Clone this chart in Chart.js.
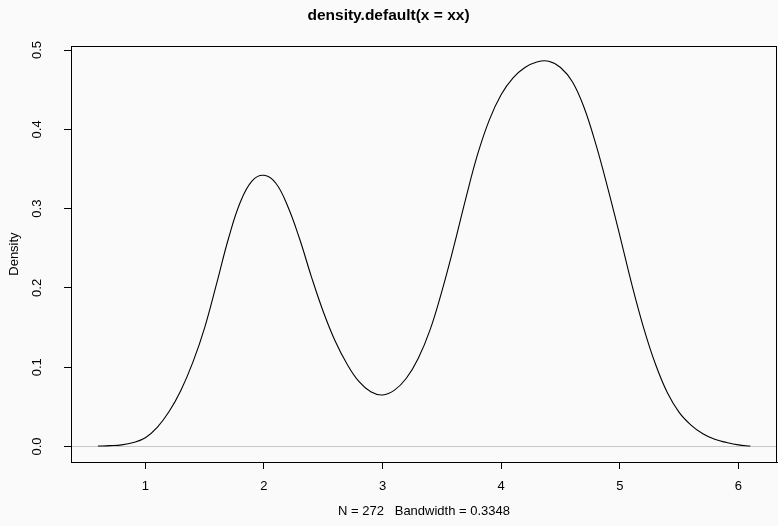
<!DOCTYPE html>
<html>
<head>
<meta charset="utf-8">
<script src="https://cdn.jsdelivr.net/npm/chart.js@4"></script>
<style>
  html, body { margin: 0; padding: 0; background: #fafafa; }
  #wrap { width: 778px; height: 526px; }
</style>
</head>
<body>
<div id="wrap"><canvas id="density_chart" width="778" height="526"></canvas></div>
<script>
// density of xx
const xValues = [0.6, 0.7, 0.8, 0.9, 1.0, 1.1, 1.2, 1.3, 1.4, 1.5, 1.6, 1.7, 1.8, 1.9,
    2.0, 2.1, 2.2, 2.3, 2.4, 2.5, 2.6, 2.7, 2.8, 2.9, 3.0, 3.1, 3.2, 3.3, 3.4, 3.5,
    3.6, 3.7, 3.8, 3.9, 4.0, 4.1, 4.2, 4.3, 4.4, 4.5, 4.6, 4.7, 4.8, 4.9, 5.0, 5.1,
    5.2, 5.3, 5.4, 5.5, 5.6, 5.7, 5.8, 5.9, 6.0, 6.1];
const densityValues = [0.0005, 0.001, 0.002, 0.005, 0.011, 0.024, 0.044, 0.071, 0.106, 0.150,
    0.205, 0.262, 0.308, 0.335, 0.342, 0.332, 0.303, 0.262, 0.214, 0.170, 0.133, 0.104,
    0.082, 0.069, 0.065, 0.071, 0.086, 0.111, 0.147, 0.196, 0.252, 0.312, 0.368, 0.412,
    0.444, 0.465, 0.478, 0.485, 0.486, 0.478, 0.460, 0.427, 0.380, 0.325, 0.266, 0.205,
    0.150, 0.104, 0.068, 0.043, 0.027, 0.016, 0.009, 0.005, 0.002, 0.0005];
const xTicks = [1, 2, 3, 4, 5, 6];
const yTicks = [0.0, 0.1, 0.2, 0.3, 0.4, 0.5];
const xRange = [0.373, 6.325];
const yRange = [-0.0196, 0.505];

const mainTitle = 'density.default(x = xx)';
const xTitle = 'N = 272   Bandwidth = 0.3348';
const yTitle = 'Density';

const fontFamily = '"Liberation Sans", Arial, Helvetica, sans-serif';

const points = xValues.map((x, i) => ({ x: x, y: densityValues[i] }));

// background, grey zero line, box round the plot
const rPlotStyle = {
    id: 'rPlotStyle',
    beforeDraw(chart) {
        const c = chart.ctx;
        c.save();
        c.fillStyle = '#fafafa';
        c.fillRect(0, 0, chart.width, chart.height);
        c.restore();
    },
    beforeDatasetsDraw(chart) {
        const c = chart.ctx;
        const area = chart.chartArea;
        const y0 = Math.round(chart.scales.y.getPixelForValue(0)) + 0.5;
        c.save();
        c.strokeStyle = '#c8c8c8';
        c.lineWidth = 1;
        c.beginPath();
        c.moveTo(area.left, y0);
        c.lineTo(area.right, y0);
        c.stroke();
        c.restore();
    },
    afterDraw(chart) {
        const c = chart.ctx;
        const area = chart.chartArea;
        c.save();
        c.strokeStyle = '#000';
        c.lineWidth = 1;
        c.strokeRect(Math.round(area.left) + 0.5, Math.round(area.top) + 0.5,
            Math.round(area.right - area.left) - 1, Math.round(area.bottom - area.top));
        c.restore();
    }
};

const ctx = document.getElementById('density_chart').getContext('2d');

const densityChart = new Chart(ctx, {
    type: 'line',
    data: {
        datasets: [{
            data: points,
            borderColor: '#000',
            borderWidth: 1.1,
            pointRadius: 0,
            fill: false,
            tension: 0.4
        }]
    },
    options: {
        responsive: false,
        animation: false,
        layout: { padding: { top: 0, right: 1, bottom: 0, left: 0 } },
        plugins: {
            legend: { display: false },
            tooltip: { enabled: false },
            title: {
                display: true,
                text: mainTitle,
                color: '#000',
                font: { family: fontFamily, size: 15.5, weight: 'bold' },
                padding: { top: 6, bottom: 21.5 }
            }
        },
        scales: {
            x: {
                type: 'linear',
                min: xRange[0],
                max: xRange[1],
                afterBuildTicks: (scale) => { scale.ticks = xTicks.map(v => ({ value: v })); },
                afterFit: (scale) => { scale.height = 64; },
                grid: { display: true, drawOnChartArea: false, drawTicks: true, tickLength: 7, color: '#000' },
                border: { display: true, color: '#000' },
                ticks: {
                    color: '#000',
                    padding: 10,
                    maxRotation: 0,
                    font: { family: fontFamily, size: 13 },
                    callback: (v) => String(v)
                },
                title: {
                    display: true,
                    text: xTitle,
                    color: '#000',
                    font: { family: fontFamily, size: 13 },
                    padding: { top: 0, bottom: 7 }
                }
            },
            y: {
                type: 'linear',
                min: yRange[0],
                max: yRange[1],
                afterBuildTicks: (scale) => { scale.ticks = yTicks.map(v => ({ value: v })); },
                afterFit: (scale) => { scale.width = 71; },
                grid: { display: true, drawOnChartArea: false, drawTicks: true, tickLength: 7, color: '#000' },
                border: { display: true, color: '#000' },
                ticks: {
                    color: '#000',
                    padding: 18,
                    minRotation: 90,
                    maxRotation: 90,
                    crossAlign: 'center',
                    font: { family: fontFamily, size: 13 },
                    callback: (v) => Number(v).toFixed(1)
                },
                title: {
                    display: true,
                    text: yTitle,
                    color: '#000',
                    font: { family: fontFamily, size: 13 },
                    padding: { top: 7, bottom: 0 }
                }
            }
        }
    },
    plugins: [rPlotStyle]
});
</script>
</body>
</html>
